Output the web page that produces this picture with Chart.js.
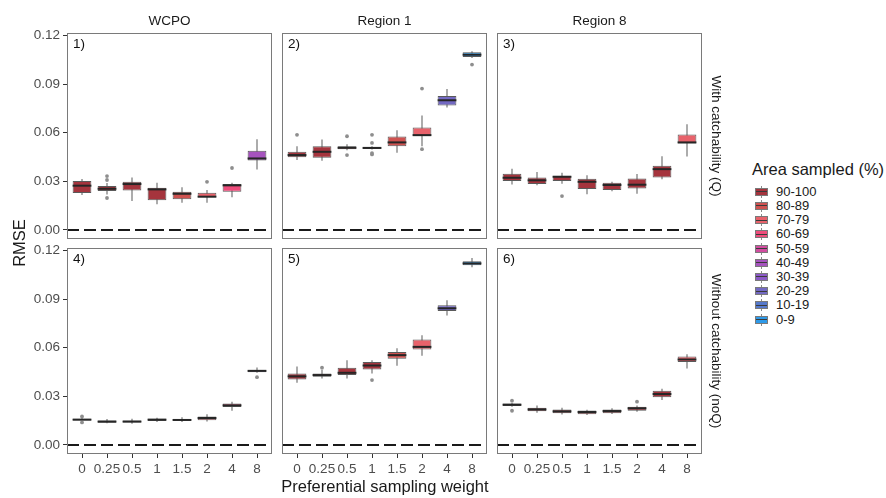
<!DOCTYPE html>
<html><head><meta charset="utf-8">
<script src="https://cdn.jsdelivr.net/npm/chart.js@4.4.1/dist/chart.umd.min.js"></script>
<style>
body{margin:0;background:#fff;}
#wrap{position:relative;width:886px;height:498px;overflow:hidden;font-family:"Liberation Sans",Arial,sans-serif;background:#fff;}
canvas{position:absolute;}
.txt{position:absolute;white-space:nowrap;color:#1a1a1a;text-align:center;}
.leg{position:absolute;white-space:nowrap;color:#1a1a1a;font-size:13px;}
.sw{position:absolute;width:14px;height:12px;}
.sw .wh{position:absolute;left:6px;top:0;width:1px;height:12px;background:#8a8a8a;}
.sw .bx{position:absolute;left:0px;top:2px;width:11px;height:6px;border:1px solid #7a7a7a;}
.sw .md{position:absolute;left:1px;top:5.5px;width:11px;height:1px;background:#3a3a3a;}
</style></head>
<body><div id="wrap"></div>
<script>
// ---------- data ----------
const WEIGHTS = ["0","0.25","0.5","1","1.5","2","4","8"];
const Y_TICKS = [0, 0.03, 0.06, 0.09, 0.12];
const AREA_LABELS = ["90-100","80-89","70-79","60-69","50-59","40-49","30-39","20-29","10-19","0-9"];
const AREA_COLORS = ["#A5343D","#CF5250","#E8626B","#EE4C7B","#D14DA0","#A653BE","#8B5AC6","#7369C3","#5679CC","#2E9AE9"];
const COL_TITLES = ["WCPO","Region 1","Region 8"];
const ROW_TITLES = ["With catchability (Q)","Without catchability (noQ)"];

// Panel 1: WCPO, with catchability
const P1_LOW  = [0.0215,0.0218,0.0178,0.0158,0.0168,0.0168,0.0201,0.0373];
const P1_Q1   = [0.0228,0.0240,0.0244,0.0183,0.0189,0.0201,0.0236,0.0429];
const P1_MED  = [0.0273,0.0254,0.0283,0.0250,0.0223,0.0205,0.0275,0.0441];
const P1_Q3   = [0.0302,0.0271,0.0297,0.0260,0.0236,0.0230,0.0283,0.0488];
const P1_HIGH = [0.0314,0.0290,0.0324,0.0291,0.0263,0.0246,0.0291,0.0560];
const P1_AREA = [0,0,0,0,1,2,3,5];
const P1_OUT  = [[1,0.0332],[1,0.0308],[1,0.0197],[5,0.0297],[6,0.0382]];

// Panel 2: Region 1, with catchability
const P2_LOW  = [0.0431,0.0427,0.0492,0.0496,0.0476,0.0517,0.0755,0.1060];
const P2_Q1   = [0.0449,0.0445,0.0498,0.0499,0.0517,0.0578,0.0767,0.1067];
const P2_MED  = [0.0462,0.0482,0.0507,0.0506,0.0540,0.0585,0.0800,0.1081];
const P2_Q3   = [0.0482,0.0517,0.0517,0.0512,0.0576,0.0632,0.0827,0.1097];
const P2_HIGH = [0.0517,0.0558,0.0529,0.0516,0.0615,0.0706,0.0870,0.1103];
const P2_AREA = [0,0,0,0,1,2,7,9];
const P2_OUT  = [[0,0.0587],[2,0.0578],[2,0.0462],[3,0.0587],[3,0.0537],[3,0.0474],[3,0.0466],[5,0.0872],[5,0.0498],[7,0.1020]];

// Panel 3: Region 8, with catchability
const P3_LOW  = [0.0281,0.0275,0.0285,0.0220,0.0238,0.0223,0.0312,0.0453];
const P3_Q1   = [0.0302,0.0283,0.0302,0.0252,0.0246,0.0256,0.0324,0.0533];
const P3_MED  = [0.0322,0.0306,0.0328,0.0297,0.0277,0.0279,0.0375,0.0540];
const P3_Q3   = [0.0347,0.0324,0.0334,0.0316,0.0291,0.0318,0.0396,0.0589];
const P3_HIGH = [0.0377,0.0357,0.0353,0.0337,0.0297,0.0345,0.0455,0.0652];
const P3_AREA = [0,0,0,0,0,0,0,2];
const P3_OUT  = [[2,0.0209]];

// Panel 4: WCPO, without catchability
const P4_LOW  = [0.0143,0.0133,0.0131,0.0141,0.0141,0.0144,0.0211,0.0445];
const P4_Q1   = [0.0150,0.0137,0.0139,0.0147,0.0149,0.0153,0.0234,0.0449];
const P4_MED  = [0.0156,0.0144,0.0144,0.0156,0.0154,0.0166,0.0244,0.0457];
const P4_Q3   = [0.0162,0.0150,0.0150,0.0162,0.0160,0.0176,0.0256,0.0462];
const P4_HIGH = [0.0172,0.0160,0.0162,0.0168,0.0170,0.0189,0.0267,0.0478];
const P4_AREA = [0,0,0,0,0,2,3,7];
const P4_OUT  = [[0,0.0176],[0,0.0139],[7,0.0418]];

// Panel 5: Region 1, without catchability
const P5_LOW  = [0.0383,0.0410,0.0410,0.0441,0.0488,0.0550,0.0798,0.1097];
const P5_Q1   = [0.0404,0.0421,0.0431,0.0466,0.0531,0.0589,0.0826,0.1108];
const P5_MED  = [0.0423,0.0431,0.0445,0.0490,0.0554,0.0605,0.0843,0.1120];
const P5_Q3   = [0.0441,0.0441,0.0476,0.0511,0.0574,0.0650,0.0862,0.1134];
const P5_HIGH = [0.0484,0.0462,0.0523,0.0523,0.0597,0.0677,0.0892,0.1153];
const P5_AREA = [0,0,0,0,1,2,7,9];
const P5_OUT  = [[1,0.0476],[3,0.0400]];

// Panel 6: Region 8, without catchability
const P6_LOW  = [0.0236,0.0198,0.0187,0.0185,0.0191,0.0205,0.0277,0.0472];
const P6_Q1   = [0.0240,0.0207,0.0195,0.0189,0.0195,0.0211,0.0294,0.0511];
const P6_MED  = [0.0248,0.0219,0.0207,0.0203,0.0209,0.0226,0.0314,0.0527];
const P6_Q3   = [0.0256,0.0230,0.0219,0.0213,0.0219,0.0236,0.0334,0.0546];
const P6_HIGH = [0.0260,0.0244,0.0230,0.0217,0.0226,0.0244,0.0347,0.0560];
const P6_AREA = [0,0,0,0,0,0,0,2];
const P6_OUT  = [[0,0.0273],[0,0.0211],[5,0.0267]];

// ---------- layout ----------
const FONT = '"Liberation Sans", Arial, sans-serif';
const COL_LEFT = [67, 282, 497], ROW_TOP = [33, 248], PW = 205, PH = 206;
const X_MIN = -0.6, X_MAX = 7.6, Y_MIN = -0.0056, Y_MAX = 0.1215;

const PANELS = [
  {label:"1)", row:0, col:0, low:P1_LOW, q1:P1_Q1, med:P1_MED, q3:P1_Q3, high:P1_HIGH, area:P1_AREA, out:P1_OUT},
  {label:"2)", row:0, col:1, low:P2_LOW, q1:P2_Q1, med:P2_MED, q3:P2_Q3, high:P2_HIGH, area:P2_AREA, out:P2_OUT},
  {label:"3)", row:0, col:2, low:P3_LOW, q1:P3_Q1, med:P3_MED, q3:P3_Q3, high:P3_HIGH, area:P3_AREA, out:P3_OUT},
  {label:"4)", row:1, col:0, low:P4_LOW, q1:P4_Q1, med:P4_MED, q3:P4_Q3, high:P4_HIGH, area:P4_AREA, out:P4_OUT},
  {label:"5)", row:1, col:1, low:P5_LOW, q1:P5_Q1, med:P5_MED, q3:P5_Q3, high:P5_HIGH, area:P5_AREA, out:P5_OUT},
  {label:"6)", row:1, col:2, low:P6_LOW, q1:P6_Q1, med:P6_MED, q3:P6_Q3, high:P6_HIGH, area:P6_AREA, out:P6_OUT},
];

const wrap = document.getElementById('wrap');

const deco = {
  id: 'deco',
  afterDraw(chart, args, opts) {
    const {ctx, chartArea: a} = chart;
    ctx.save();
    ctx.strokeStyle = '#7a7a7a';
    ctx.lineWidth = 1;
    ctx.strokeRect(Math.round(a.left) + 0.5, Math.round(a.top) + 0.5, Math.round(a.width) - 1, Math.round(a.height) - 1);
    ctx.fillStyle = '#111';
    ctx.font = '13.5px ' + FONT;
    ctx.textBaseline = 'middle';
    ctx.fillText(opts.label, a.left + 6, a.top + 11.5);
    ctx.restore();
  }
};

function halfBox(chart) {
  const s = chart.scales.x;
  return Math.abs(s.getPixelForValue(0.375) - s.getPixelForValue(0));
}

function makePanel(p) {
  const showY = p.col === 0, showX = p.row === 1;
  const padL = showY ? 0 : 8, yW = showY ? COL_LEFT[0] : 0, padR = 8, padT = 14;
  const xH = showX ? 30 : 0, padB = showX ? 4 : 14;
  const W = padL + yW + PW + padR, H = padT + PH + xH + padB;
  const cv = document.createElement('canvas');
  cv.width = W; cv.height = H;
  cv.style.width = W + 'px'; cv.style.height = H + 'px';
  cv.style.left = (COL_LEFT[p.col] - yW - padL) + 'px';
  cv.style.top = (ROW_TOP[p.row] - padT) + 'px';
  wrap.appendChild(cv);
  const xs = WEIGHTS.map((_, i) => i);
  new Chart(cv, {
    type: 'bar',
    data: {
      datasets: [
        {type:'line', data:[{x:X_MIN, y:0}, {x:X_MAX, y:0}], borderColor:'#1a1a1a', borderWidth:2,
         borderDash:[12,5], pointRadius:0, order:5},
        {type:'bar', grouped:false, data: xs.map(i => ({x:i, y:[p.low[i], p.high[i]]})),
         backgroundColor:'#5a5a5a', borderWidth:0, maxBarThickness:1, categoryPercentage:1, barPercentage:0.75, order:4},
        {type:'bar', grouped:false, data: xs.map(i => ({x:i, y:[p.q1[i], p.q3[i]]})),
         backgroundColor: xs.map(i => AREA_COLORS[p.area[i]]), borderColor:'#5a5a5a', borderWidth:1,
         borderSkipped:false, categoryPercentage:1, barPercentage:0.75, order:3},
        {type:'scatter', data: xs.map(i => ({x:i, y:p.med[i]})), pointStyle:'line',
         pointRadius: c => halfBox(c.chart), pointBorderColor:'#262626', pointBorderWidth:2, order:2},
        {type:'scatter', data: p.out.map(o => ({x:o[0], y:o[1]})), pointStyle:'circle', pointRadius:1.9,
         pointBackgroundColor:'#8e8e8e', pointBorderWidth:0, order:1},
      ]
    },
    options: {
      responsive:false, animation:false, events:[],
      layout:{padding:{left:padL, right:padR, top:padT, bottom:padB}},
      plugins:{legend:{display:false}, tooltip:{enabled:false}, deco:{label:p.label}},
      scales:{
        x:{type:'linear', min:X_MIN, max:X_MAX, offset:false, display:showX,
           afterBuildTicks: s => { s.ticks = xs.map(v => ({value:v})); },
           afterFit: s => { if (showX) s.height = xH; },
           ticks:{callback: v => WEIGHTS[v], font:{family:FONT, size:13.5}, color:'#4d4d4d', padding:3,
                  autoSkip:false, maxRotation:0, minRotation:0},
           grid:{drawOnChartArea:false, drawTicks:true, tickLength:4, color:'#333', offset:false},
           border:{display:false}},
        y:{type:'linear', min:Y_MIN, max:Y_MAX, display:showY,
           afterBuildTicks: s => { s.ticks = Y_TICKS.map(v => ({value:v})); },
           afterFit: s => { if (showY) s.width = yW; },
           ticks:{callback: v => v.toFixed(2), font:{family:FONT, size:13.5}, color:'#4d4d4d', padding:3, autoSkip:false},
           grid:{drawOnChartArea:false, drawTicks:true, tickLength:4, color:'#333'},
           border:{display:false}}
      }
    },
    plugins:[deco]
  });
}
PANELS.forEach(makePanel);

// ---------- text ----------
function addText(txt, cx, cy, size, rot) {
  const d = document.createElement('div');
  d.className = 'txt';
  d.textContent = txt;
  d.style.width = '300px'; d.style.height = '24px'; d.style.lineHeight = '24px';
  d.style.left = (cx - 150) + 'px'; d.style.top = (cy - 12) + 'px';
  d.style.fontSize = size + 'px';
  if (rot) d.style.transform = 'rotate(' + rot + 'deg)';
  wrap.appendChild(d);
}
COL_TITLES.forEach((t, i) => addText(t, COL_LEFT[i] + PW / 2, 20.5, 13.5, 0));
ROW_TITLES.forEach((t, i) => addText(t, 716, ROW_TOP[i] + PH / 2, 13.5, 90));
addText("RMSE", 19, 243, 16.5, -90);
addText("Preferential sampling weight", 385, 486, 16.5, 0);

// ---------- legend ----------
const lt = document.createElement('div');
lt.className = 'leg';
lt.style.fontSize = '16.5px';
lt.style.left = '752px'; lt.style.top = '159px'; lt.style.lineHeight = '20px';
lt.textContent = "Area sampled (%)";
wrap.appendChild(lt);
AREA_LABELS.forEach((lab, i) => {
  const cy = 191.7 + i * 14.2;
  const sw = document.createElement('div');
  sw.className = 'sw';
  sw.style.left = '755px'; sw.style.top = (cy - 6) + 'px';
  sw.innerHTML = '<div class="wh"></div><div class="bx" style="background:' + AREA_COLORS[i] + '"></div><div class="md"></div>';
  wrap.appendChild(sw);
  const t = document.createElement('div');
  t.className = 'leg';
  t.style.left = '776px'; t.style.top = (cy - 8) + 'px'; t.style.lineHeight = '16px';
  t.textContent = lab;
  wrap.appendChild(t);
});
</script>
</body></html>
